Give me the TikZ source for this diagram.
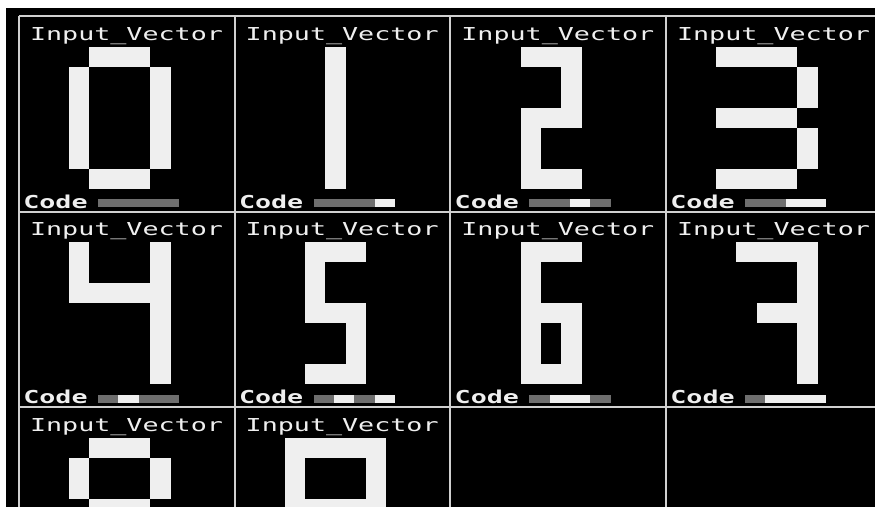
\documentclass[tikz,border=0pt]{standalone}
\usepackage{fontspec}
\usepackage{graphicx}
\newfontfamily\pixfont{DejaVu Sans Mono}
\definecolor{fg}{HTML}{EFEFEF}
\definecolor{code0}{HTML}{6E6E6E}
\definecolor{code1}{HTML}{EFEFEF}
\definecolor{gridc}{HTML}{D0D0D0}
\tikzset{
  lbl/.style={text=fg, inner sep=0pt, anchor=base, font=\pixfont\fontsize{17.8}{18}\selectfont},
  codelbl/.style={lbl, font=\pixfont\bfseries\fontsize{17.8}{18}\selectfont},
  gridline/.style={draw=gridc, line width=2pt},
  pix/.style={fill=fg}
}
\begin{document}
\begin{tikzpicture}[x=1pt,y=-1pt]
\useasboundingbox (0,0) rectangle (875,506);
\fill[white] (0,0) rectangle (875,506);
\clip (0,0) rectangle (875,506);
\fill[black] (6,8) rectangle (880,512);
\def\cw{215.67}
\def\ch{195.5}
\def\u{20.35}
% cells: digit / column / row / code bits / glyph rectangles
\foreach \d/\c/\r/\bits/\rects in {
  0/0/0/{0,0,0,0}/{1/0/3/0, 0/1/0/5, 4/1/4/5, 1/6/3/6},
  1/1/0/{0,0,0,1}/{2/0/2/6},
  2/2/0/{0,0,1,0}/{1/0/3/0, 3/1/3/2, 1/3/3/3, 1/4/1/5, 1/6/3/6},
  3/3/0/{0,0,1,1}/{0/0/3/0, 4/1/4/2, 0/3/3/3, 4/4/4/5, 0/6/3/6},
  4/0/1/{0,1,0,0}/{0/0/0/2, 0/2/4/2, 4/0/4/6},
  5/1/1/{0,1,0,1}/{1/0/3/0, 1/1/1/3, 1/3/3/3, 3/4/3/5, 1/6/3/6},
  6/2/1/{0,1,1,0}/{1/0/3/0, 1/0/1/6, 1/3/3/3, 3/3/3/6, 1/6/3/6},
  7/3/1/{0,1,1,1}/{1/0/4/0, 4/0/4/6, 2/3/3/3}} {
  \pgfmathsetmacro\xo{19+\c*\cw}
  \pgfmathsetmacro\yo{16+\r*\ch}
  \node[lbl] (in\d) at (\xo+107.5,\yo+24) {\scalebox{1.5}[1]{Input\_Vector}};
  \foreach \ca/\ra/\cb/\rb in \rects {
    \fill[pix] (\xo+50+\ca*\u,\yo+30.5+\ra*\u) rectangle (\xo+50+\cb*\u+\u,\yo+30.5+\rb*\u+\u);
  }
  \node[codelbl] (code\d) at (\xo+36.5,\yo+192) {\scalebox{1.5}[1]{Code}};
  \foreach \b [count=\k from 0] in \bits {
    \fill[code\b] (\xo+79+\k*20.3,\yo+183) rectangle (\xo+79+\k*20.3+20.3,\yo+191);
  }
}
% partially visible third row
\foreach \d/\c/\rects in {
  8/0/{1/0/3/0, 0/1/0/2, 4/1/4/2, 1/3/3/3, 0/4/0/5, 4/4/4/5, 1/6/3/6},
  9/1/{0/0/4/0, 0/1/0/2, 4/1/4/2, 0/3/4/3, 4/4/4/5, 0/6/4/6}} {
  \pgfmathsetmacro\xo{19+\c*\cw}
  \pgfmathsetmacro\yo{16+2*\ch}
  \node[lbl] (in\d) at (\xo+107.5,\yo+24) {\scalebox{1.5}[1]{Input\_Vector}};
  \foreach \ca/\ra/\cb/\rb in \rects {
    \fill[pix] (\xo+50+\ca*\u,\yo+30.5+\ra*\u) rectangle (\xo+50+\cb*\u+\u,\yo+30.5+\rb*\u+\u);
  }
}
% grid lines
\foreach \i in {0,1,2,3} {
  \draw[gridline] (19+\i*\cw,16) -- (19+\i*\cw,512);
}
\foreach \j in {0,1,2} {
  \draw[gridline] (19,16+\j*\ch) -- (880,16+\j*\ch);
}
\end{tikzpicture}
\end{document}
